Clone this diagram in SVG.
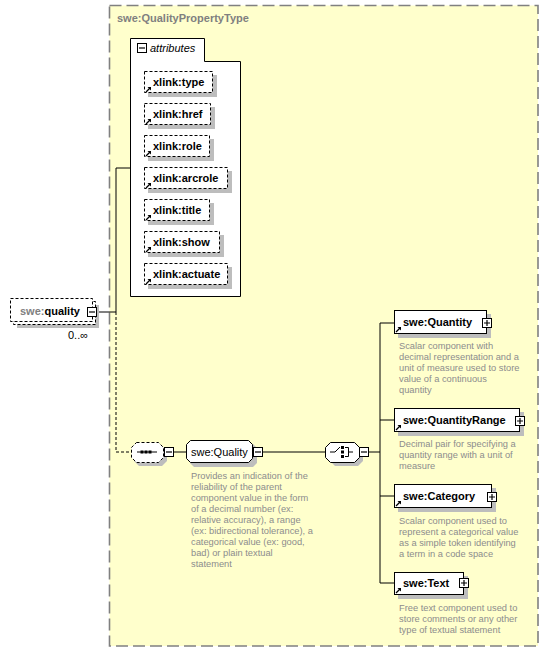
<svg xmlns="http://www.w3.org/2000/svg" width="549" height="652" viewBox="0 0 549 652">
<style>
.bg{fill:#FFFFCC;stroke:#808080;stroke-width:1.6;stroke-dasharray:12,5}
.title{font:bold 11px "Liberation Sans",Arial,sans-serif;fill:#808080}
.name{font:bold 11px "Liberation Sans",Arial,sans-serif;fill:#000}
.norm{font:11px "Liberation Sans",Arial,sans-serif;fill:#000}
.ital{font:italic 11px "Liberation Sans",Arial,sans-serif;fill:#000}
.gray{fill:#808080}
.desc{font:9.3px "Liberation Sans",Arial,sans-serif;fill:#8C8C8C}
.box{fill:#fff;stroke:#000;stroke-width:1}
.dbox{fill:#fff;stroke:#000;stroke-width:1;stroke-dasharray:3,2}
.shadow{fill:#BDBDBD;stroke:none}
.line{fill:none;stroke:#000;stroke-width:1}
.dline{fill:none;stroke:#000;stroke-width:1;stroke-dasharray:3,2}
.btn{fill:#fff;stroke:#000;stroke-width:1}
.sign{fill:none;stroke:#000;stroke-width:1.2}
</style>
<defs>
<g id="arrow"><path d="M0,5 L4,1" stroke="#000" stroke-width="1.2" fill="none"/><path d="M1.5,0 L5,0 L5,3.5 Z" fill="#000"/></g>
<g id="minus"><rect class="btn" x="0.5" y="0.5" width="9" height="9"/><path class="sign" d="M2,5 H8"/></g>
<g id="plus"><rect class="btn" x="0.5" y="0.5" width="9" height="9"/><path class="sign" d="M2,5 H8 M5,2 V8"/></g>
</defs>

<g id="complexType">
<rect class="bg" x="109.5" y="5.5" width="428.5" height="640.5"/>
<text class="title" x="117" y="22">swe:QualityPropertyType</text>
</g>

<g id="connectors">
<path class="line" d="M97,312 H116 M116,168 V312 M116,168 H130"/>
<path class="dline" d="M116,312 V452 H131"/>
<path class="line" d="M174,452 H186 M263,452 H325 M369,452 H380 M380,323 V583 M380,323 H394 M380,420 H394 M380,496 H394 M380,583 H394"/>
</g>

<g id="attributes">
<path d="M130.5,38.5 H204.5 V61.5 H240.5 V296.5 H130.5 Z" fill="#fff" stroke="#000" stroke-width="1"/>
<use href="#minus" x="137" y="43"/>
<text class="ital" x="150" y="52">attributes</text>
</g>

<g id="attr-type">
<rect class="shadow" x="148" y="75" width="69" height="22"/>
<rect class="dbox" x="144.5" y="71.5" width="68" height="21"/>
<use href="#arrow" x="146" y="87"/>
<text class="name" x="153" y="86">xlink:type</text>
</g>
<g id="attr-href">
<rect class="shadow" x="148" y="107" width="67" height="22"/>
<rect class="dbox" x="144.5" y="103.5" width="66" height="21"/>
<use href="#arrow" x="146" y="119"/>
<text class="name" x="153" y="118">xlink:href</text>
</g>
<g id="attr-role">
<rect class="shadow" x="148" y="139" width="66" height="22"/>
<rect class="dbox" x="144.5" y="135.5" width="65" height="21"/>
<use href="#arrow" x="146" y="151"/>
<text class="name" x="153" y="150">xlink:role</text>
</g>
<g id="attr-arcrole">
<rect class="shadow" x="148" y="171" width="84" height="22"/>
<rect class="dbox" x="144.5" y="167.5" width="83" height="21"/>
<use href="#arrow" x="146" y="183"/>
<text class="name" x="153" y="182">xlink:arcrole</text>
</g>
<g id="attr-title">
<rect class="shadow" x="148" y="203" width="66" height="22"/>
<rect class="dbox" x="144.5" y="199.5" width="65" height="21"/>
<use href="#arrow" x="146" y="215"/>
<text class="name" x="153" y="214">xlink:title</text>
</g>
<g id="attr-show">
<rect class="shadow" x="148" y="235" width="76" height="22"/>
<rect class="dbox" x="144.5" y="231.5" width="75" height="21"/>
<use href="#arrow" x="146" y="247"/>
<text class="name" x="153" y="246">xlink:show</text>
</g>
<g id="attr-actuate">
<rect class="shadow" x="148" y="267" width="84" height="22"/>
<rect class="dbox" x="144.5" y="263.5" width="83" height="21"/>
<use href="#arrow" x="146" y="279"/>
<text class="name" x="153" y="278">xlink:actuate</text>
</g>

<g id="quality">
<rect class="shadow" x="17" y="305" width="82" height="23"/>
<rect class="dbox" x="13.5" y="301.5" width="82" height="23"/>
<rect class="dbox" x="10.5" y="298.5" width="82" height="23"/>
<text class="name" x="20" y="315"><tspan class="gray">swe:</tspan>quality</text>
<use href="#minus" x="87" y="307"/>
<text class="norm" x="68" y="339" font-size="10">0..∞</text>
</g>

<g id="sequence">
<path class="shadow" d="M139,446 H162 L167,451 V461 L162,466 H139 L134,461 V451 Z"/>
<path class="dbox" d="M136.5,442.5 H158.5 L163.5,447.5 V457.5 L158.5,462.5 H136.5 L131.5,457.5 V447.5 Z"/>
<path class="line" d="M137,452 H157"/>
<rect x="140.5" y="450.5" width="3" height="3" fill="#000"/>
<rect x="144.5" y="450.5" width="3" height="3" fill="#000"/>
<rect x="148.5" y="450.5" width="3" height="3" fill="#000"/>
<use href="#minus" x="164" y="447"/>
</g>

<g id="Quality">
<path class="shadow" d="M194,444 H253 L257,448 V463 L253,467 H194 L190,463 V448 Z"/>
<path class="box" d="M190.5,440.5 H248.5 L252.5,444.5 V458.5 L248.5,462.5 H190.5 L186.5,458.5 V444.5 Z"/>
<text class="norm" x="191" y="456">swe:Quality</text>
<use href="#minus" x="253" y="447"/>
<text class="desc" x="191" y="479">Provides an indication of the</text>
<text class="desc" x="191" y="490">reliability of the parent</text>
<text class="desc" x="191" y="501">component value in the form</text>
<text class="desc" x="191" y="512">of a decimal number (ex:</text>
<text class="desc" x="191" y="523">relative accuracy), a range</text>
<text class="desc" x="191" y="534">(ex: bidirectional tolerance), a</text>
<text class="desc" x="191" y="545">categorical value (ex: good,</text>
<text class="desc" x="191" y="556">bad) or plain textual</text>
<text class="desc" x="191" y="567">statement</text>
</g>

<g id="choice">
<path class="shadow" d="M335,446 H358 L363,451 V461 L358,466 H335 L330,461 V451 Z"/>
<path class="box" d="M330.5,442.5 H354.5 L359.5,447.5 V457.5 L354.5,462.5 H330.5 L325.5,457.5 V447.5 Z"/>
<path class="line" d="M330,452 H335 L340,447"/>
<rect x="341" y="446" width="3" height="3" fill="#000"/>
<rect x="341" y="450.5" width="3" height="3" fill="#000"/>
<rect x="341" y="455" width="3" height="3" fill="#000"/>
<path class="line" d="M345,447.5 H348.5 V456.5 H345 M348.5,452 H353"/>
<use href="#minus" x="359" y="447"/>
</g>

<g id="Quantity">
<rect class="shadow" x="398" y="314" width="93" height="24"/>
<rect class="box" x="394.5" y="310.5" width="92" height="23"/>
<use href="#arrow" x="396" y="327"/>
<text class="name" x="403" y="326">swe:Quantity</text>
<use href="#plus" x="482" y="318"/>
<text class="desc" x="399" y="349">Scalar component with</text>
<text class="desc" x="399" y="360">decimal representation and a</text>
<text class="desc" x="399" y="371">unit of measure used to store</text>
<text class="desc" x="399" y="382">value of a continuous</text>
<text class="desc" x="399" y="393">quantity</text>
</g>

<g id="QuantityRange">
<rect class="shadow" x="398" y="412" width="126" height="24"/>
<rect class="box" x="394.5" y="408.5" width="125" height="23"/>
<use href="#arrow" x="396" y="425"/>
<text class="name" x="403" y="424">swe:QuantityRange</text>
<use href="#plus" x="515" y="416"/>
<text class="desc" x="399" y="447">Decimal pair for specifying a</text>
<text class="desc" x="399" y="458">quantity range with a unit of</text>
<text class="desc" x="399" y="469">measure</text>
</g>

<g id="Category">
<rect class="shadow" x="398" y="488" width="98" height="24"/>
<rect class="box" x="394.5" y="484.5" width="97" height="23"/>
<use href="#arrow" x="396" y="501"/>
<text class="name" x="403" y="500">swe:Category</text>
<use href="#plus" x="487" y="492"/>
<text class="desc" x="399" y="524">Scalar component used to</text>
<text class="desc" x="399" y="535">represent a categorical value</text>
<text class="desc" x="399" y="546">as a simple token identifying</text>
<text class="desc" x="399" y="557">a term in a code space</text>
</g>

<g id="Text">
<rect class="shadow" x="398" y="576" width="70" height="23"/>
<rect class="box" x="394.5" y="572.5" width="69" height="22"/>
<use href="#arrow" x="396" y="588"/>
<text class="name" x="403" y="587">swe:Text</text>
<use href="#plus" x="459" y="578"/>
<text class="desc" x="399" y="611">Free text component used to</text>
<text class="desc" x="399" y="622">store comments or any other</text>
<text class="desc" x="399" y="633">type of textual statement</text>
</g>
</svg>
